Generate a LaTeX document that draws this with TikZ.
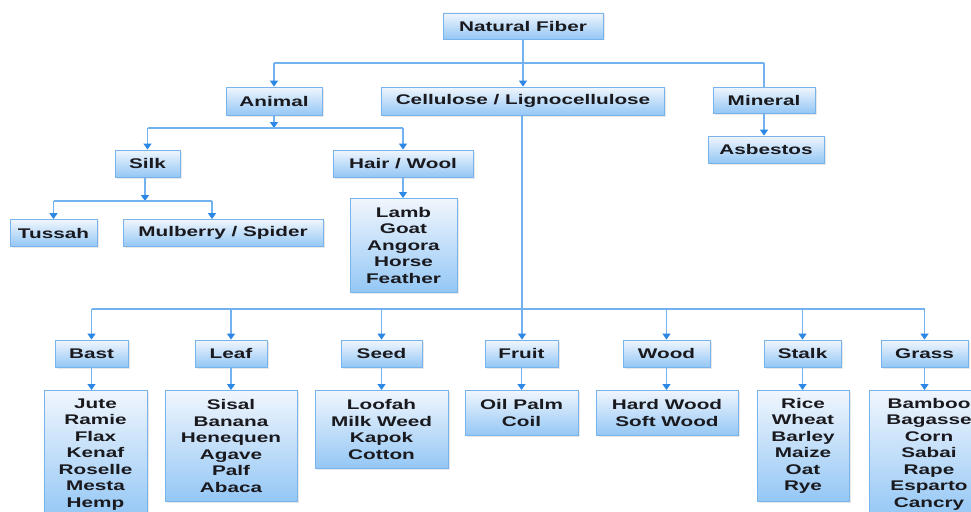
\documentclass[tikz,border=0pt]{standalone}
\usepackage{fontspec}
\setmainfont{Liberation Sans}[FakeStretch=1.48]
\usetikzlibrary{arrows.meta,shadows}
\definecolor{boxtop}{RGB}{240,246,253}
\definecolor{boxbot}{RGB}{148,199,245}
\definecolor{boxborder}{RGB}{120,180,235}
\definecolor{linec}{RGB}{115,178,240}
\definecolor{arrowc}{RGB}{45,135,228}
\definecolor{txt}{RGB}{25,25,30}
\tikzset{
  box/.style={draw=boxborder, line width=0.8pt, top color=boxtop, bottom color=boxbot,
    text=txt, font=\fontsize{14}{16.5}\selectfont\bfseries, inner sep=0pt, align=center,
    drop shadow={opacity=0.18, shadow xshift=1.5pt, shadow yshift=-1.5pt}},
  cat/.style={box, minimum height=27pt},
  lst/.style={box, anchor=north},
  conn/.style={draw=linec, line width=1.4pt},
  arr/.style={conn, -{Triangle[width=8pt,length=6pt,color=arrowc]}},
}
\begin{document}
\begin{tikzpicture}[x=1pt,y=-1pt]
\useasboundingbox (0,0) rectangle (971,511);
\clip (0,0) rectangle (971,511);
\fill[white] (0,0) rectangle (971,511);
% top level
\node[cat, minimum width=160pt, minimum height=26pt] (nf) at (523,26) {Natural Fiber};
\node[cat, minimum width=96pt, minimum height=28pt] (animal) at (274,101) {Animal};
\node[cat, minimum width=283pt, minimum height=28pt] (cell) at (523,101) {Cellulose / Lignocellulose};
\node[cat, minimum width=102pt, minimum height=26pt] (mineral) at (764,100) {Mineral};
\node[cat, minimum width=116pt] (asb) at (766,149.5) {Asbestos};
% animal branch
\node[cat, minimum width=65pt] (silk) at (147.5,163.5) {Silk};
\node[cat, minimum width=140pt] (hair) at (403,163.5) {Hair / Wool};
\node[cat, minimum width=87pt] (tussah) at (53.5,233) {Tussah};
\node[cat, minimum width=200pt] (mulb) at (223,233) {Mulberry / Spider};
\node[lst, minimum width=107pt, minimum height=94pt] (hairl) at (403.5,198) {Lamb\\Goat\\Angora\\Horse\\Feather};
% cellulose categories
\node[cat, minimum width=73pt] (bast) at (91.5,353.5) {Bast};
\node[cat, minimum width=72pt] (leaf) at (231,353.5) {Leaf};
\node[cat, minimum width=81pt] (seed) at (381.5,353.5) {Seed};
\node[cat, minimum width=73pt] (fruit) at (521.5,353.5) {Fruit};
\node[cat, minimum width=87pt] (wood) at (666.5,353.5) {Wood};
\node[cat, minimum width=77pt] (stalk) at (802.5,353.5) {Stalk};
\node[cat, minimum width=87pt] (grass) at (924.5,353.5) {Grass};
% lists
\node[lst, minimum width=103pt, minimum height=127.5pt] (bastl) at (95.5,390) {Jute\\Ramie\\Flax\\Kenaf\\Roselle\\Mesta\\Hemp};
\node[lst, minimum width=132pt, minimum height=111pt] (leafl) at (231,390) {Sisal\\Banana\\Henequen\\Agave\\Palf\\Abaca};
\node[lst, minimum width=133pt, minimum height=78pt] (seedl) at (381.5,390) {Loofah\\Milk Weed\\Kapok\\Cotton};
\node[lst, minimum width=113pt, minimum height=45pt] (fruitl) at (521.5,390) {Oil Palm\\Coil};
\node[lst, minimum width=142pt, minimum height=45pt] (woodl) at (667,390) {Hard Wood\\Soft Wood};
\node[lst, minimum width=92pt, minimum height=111pt] (stalkl) at (803,390) {Rice\\Wheat\\Barley\\Maize\\Oat\\Rye};
\node[lst, minimum width=120pt, minimum height=127.5pt] (grassl) at (929,390) {Bamboo\\Bagasse\\Corn\\Sabai\\Rape\\Esparto\\Cancry};
% junction coordinates
\coordinate (t) at (523,63);
\coordinate (a) at (274,128);
\coordinate (s) at (145,201);
\coordinate (mj) at (212,201);
\coordinate (b) at (522,309);
% connectors top
\draw[conn] (animal.north |- t) -- (mineral.north |- t);
\draw[arr] (nf.south) -- (nf.south |- cell.north);
\draw[arr] (animal.north |- t) -- (animal.north);
\draw[conn] (mineral.north |- t) -- (mineral.north);
\draw[arr] (mineral.south) -- (mineral.south |- asb.north);
% animal
\draw[arr] (animal.south) -- (a);
\draw[conn] (a -| silk.north) -- (a -| hair.north);
\draw[arr] (a -| silk.north) -- (silk.north);
\draw[arr] (a -| hair.north) -- (hair.north);
\draw[arr] (hair.south) -- (hair.south |- hairl.north);
% silk
\draw[arr] (silk.south -| s) -- (s);
\draw[conn] (s -| tussah.north) -- (mj);
\draw[arr] (s -| tussah.north) -- (tussah.north);
\draw[arr] (mj) -- (mj |- mulb.north);
% cellulose
\draw[conn] (b -| bast.north) -- (b -| grass.north);
\draw[arr] (cell.south -| b) -- (b |- fruit.north);
\foreach \n in {bast,leaf,seed,wood,stalk,grass}{
  \draw[arr] (b -| \n.north) -- (\n.north);
}
\foreach \n in {bast,leaf,seed,fruit,wood,stalk,grass}{
  \draw[arr] (\n.south) -- (\n.south |- \n l.north);
}
\end{tikzpicture}
\end{document}
